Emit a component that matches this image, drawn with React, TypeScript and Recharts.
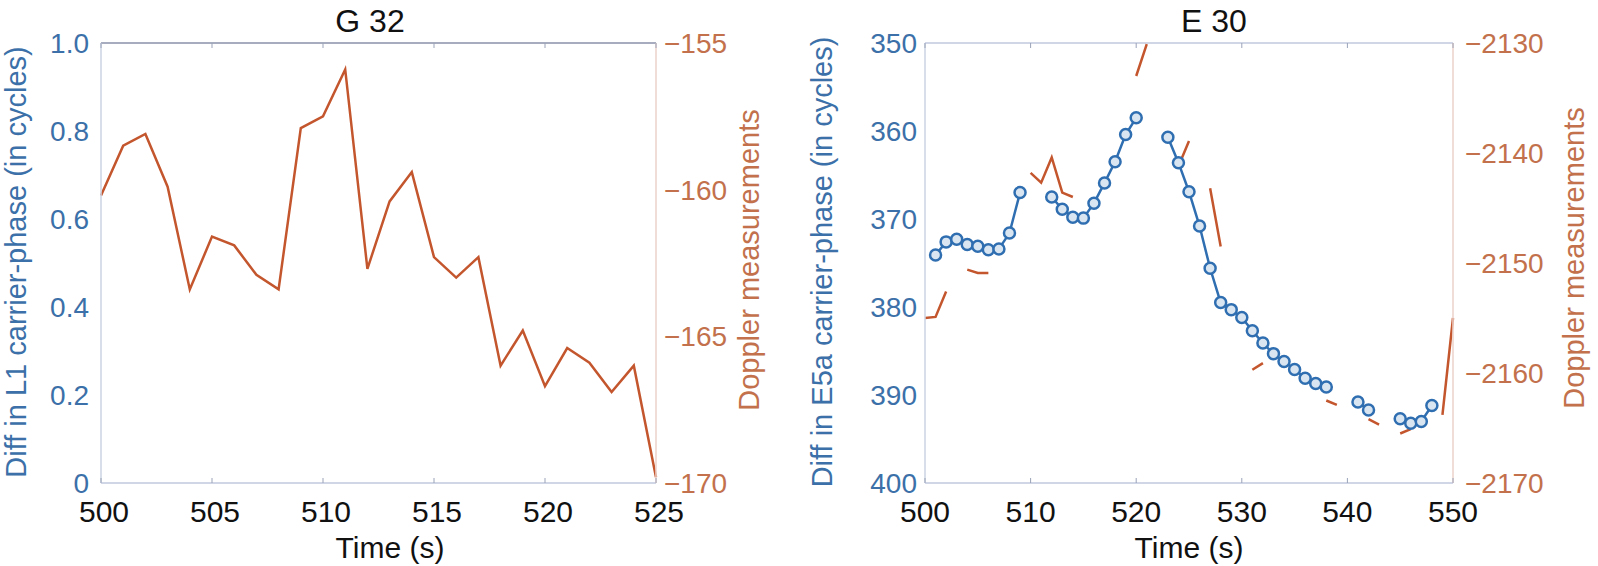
import React from "react";
import { LineChart, Line, XAxis, YAxis, ReferenceLine } from "recharts";

const FONT = "'Liberation Sans', Arial, Helvetica, sans-serif";
const BLUE = "#2f6eb0";
const BLUE_TXT = "#3b70a8";
const ORANGE = "#c4562e";
const ORANGE_TXT = "#c2714c";

// G 32
const g32Time = [500, 501, 502, 503, 504, 505, 506, 507, 508, 509, 510, 511, 512, 513, 514, 515, 516, 517, 518, 519, 520, 521, 522, 523, 524, 525];
const g32Doppler = [-160.2, -158.5, -158.1, -159.9, -163.4, -161.6, -161.9, -162.9, -163.4, -157.9, -157.5, -155.9, -162.7, -160.4, -159.4, -162.3, -163.0, -162.3, -166.0, -164.8, -166.7, -165.4, -165.9, -166.9, -166.0, -169.8];
const g32XTicks = [500, 505, 510, 515, 520, 525];
const g32PhaseTicks = [0, 0.2, 0.4, 0.6, 0.8, 1];
const g32DopplerTicks = [-170, -165, -160, -155];

// E 30
const e30Time = [500, 501, 502, 503, 504, 505, 506, 507, 508, 509, 510, 511, 512, 513, 514, 515, 516, 517, 518, 519, 520, 521, 522, 523, 524, 525, 526, 527, 528, 529, 530, 531, 532, 533, 534, 535, 536, 537, 538, 539, 540, 541, 542, 543, 544, 545, 546, 547, 548, 549, 550];
const e30Phase = [null, 374.1, 372.6, 372.3, 372.9, 373.1, 373.5, 373.4, 371.6, 367.0, null, null, 367.5, 368.9, 369.8, 369.9, 368.2, 365.9, 363.5, 360.4, 358.5, null, null, 360.7, 363.6, 366.9, 370.8, 375.6, 379.5, 380.3, 381.2, 382.7, 384.1, 385.3, 386.2, 387.1, 388.1, 388.7, 389.1, null, null, 390.8, 391.7, null, null, 392.7, 393.2, 393.0, 391.2, null, null];
const e30Doppler = [-2155.0, -2154.9, -2152.6, null, -2150.6, -2150.9, -2150.9, null, null, null, -2141.8, -2142.7, -2140.4, -2143.6, -2144.0, null, null, null, null, null, -2133.0, -2130.1, null, null, -2141.2, -2138.9, null, -2143.2, -2148.5, null, null, -2159.7, -2159.1, null, null, null, null, null, -2162.5, -2162.9, null, null, -2164.2, -2164.7, null, -2165.5, -2165.1, null, null, -2163.8, -2155.0];
const e30XTicks = [500, 510, 520, 530, 540, 550];
const e30PhaseTicks = [350, 360, 370, 380, 390, 400];
const e30DopplerTicks = [-2170, -2160, -2150, -2140, -2130];

const g32Data = g32Time.map((t, i) => ({ t, doppler: g32Doppler[i] }));
const e30Data = e30Time.map((t, i) => ({ t, phase: e30Phase[i], doppler: e30Doppler[i] }));

const minus = (v: number) => (v < 0 ? "\u2212" + Math.abs(v) : String(v));

function makeXTick(top: number, bottom: number, dx: number) {
  return (props: any) => {
    const { x, payload } = props;
    return (
      <g>
        <line x1={x} x2={x} y1={bottom} y2={bottom - 5} stroke="#9aa3b8" strokeWidth={1} />
        <line x1={x} x2={x} y1={top} y2={top + 5} stroke="#9aa3b8" strokeWidth={1} />
        <text x={x + dx} y={522} textAnchor="middle" fontSize={30} fontFamily={FONT} fill="#111">
          {payload.value}
        </text>
      </g>
    );
  };
}

function makeYTick(textX: number, anchor: "start" | "end", color: string, fmt: (v: number) => string) {
  return (props: any) => {
    const { y, payload } = props;
    return (
      <text x={textX} y={y + 10} textAnchor={anchor} fontSize={28} fontFamily={FONT} fill={color}>
        {fmt(payload.value)}
      </text>
    );
  };
}

function vLabel(x: number, y: number, text: string, color: string) {
  return () => (
    <text x={x} y={y} transform={`rotate(-90 ${x} ${y})`} textAnchor="middle" fontSize={29} fontFamily={FONT} fill={color}>
      {text}
    </text>
  );
}

function hLabel(x: number, y: number, text: string, size: number) {
  return () => (
    <text x={x} y={y} textAnchor="middle" fontSize={size} fontFamily={FONT} fill="#111">
      {text}
    </text>
  );
}

function G32Chart() {
  return (
    <LineChart width={800} height={566} data={g32Data} margin={{ top: 43, right: 0, bottom: 0, left: 0 }}>
      <XAxis
        dataKey="t"
        type="number"
        domain={[500, 525]}
        ticks={g32XTicks}
        height={83}
        axisLine={{ stroke: "#c0c8dc", strokeWidth: 1.5 }}
        tickLine={false}
        tick={makeXTick(43, 483, 3)}
        label={hLabel(390, 558, "Time (s)", 30)}
      />
      <YAxis
        yAxisId="left"
        type="number"
        domain={[0, 1]}
        allowDataOverflow
        ticks={g32PhaseTicks}
        width={101}
        axisLine={{ stroke: "#ccd5e3", strokeWidth: 1.5 }}
        tickLine={false}
        tick={makeYTick(89, "end", BLUE_TXT, (v) => (v === 0 ? "0" : v.toFixed(1)))}
        label={vLabel(26, 262, "Diff in L1 carrier-phase (in cycles)", BLUE_TXT)}
      />
      <YAxis
        yAxisId="right"
        orientation="right"
        type="number"
        domain={[-170, -155]}
        allowDataOverflow
        ticks={g32DopplerTicks}
        width={144}
        axisLine={{ stroke: "#ecd2ca", strokeWidth: 1.5 }}
        tickLine={false}
        tick={makeYTick(664, "start", ORANGE_TXT, minus)}
        label={vLabel(759, 260, "Doppler measurements", ORANGE_TXT)}
      />
      <ReferenceLine
        yAxisId="left"
        y={1}
        stroke="#8a92aa"
        strokeWidth={1.5}
        label={hLabel(370, 32, "G 32", 32)}
      />
      <Line
        yAxisId="right"
        dataKey="doppler"
        type="linear"
        stroke={ORANGE}
        strokeWidth={2.5}
        dot={false}
        isAnimationActive={false}
      />
    </LineChart>
  );
}

function E30Chart() {
  return (
    <LineChart width={808} height={566} data={e30Data} margin={{ top: 43, right: 0, bottom: 0, left: 0 }}>
      <XAxis
        dataKey="t"
        type="number"
        domain={[500, 550]}
        ticks={e30XTicks}
        height={83}
        axisLine={{ stroke: "#c0c8dc", strokeWidth: 1.5 }}
        tickLine={false}
        tick={makeXTick(43, 483, 0)}
        label={hLabel(399, 558, "Time (s)", 30)}
      />
      <YAxis
        yAxisId="left"
        type="number"
        domain={[350, 400]}
        allowDataOverflow
        reversed
        ticks={e30PhaseTicks}
        width={135}
        axisLine={{ stroke: "#ccd5e3", strokeWidth: 1.5 }}
        tickLine={false}
        tick={makeYTick(127, "end", BLUE_TXT, (v) => String(v))}
        label={vLabel(42, 262, "Diff in E5a carrier-phase (in cycles)", BLUE_TXT)}
      />
      <YAxis
        yAxisId="right"
        orientation="right"
        type="number"
        domain={[-2170, -2130]}
        allowDataOverflow
        ticks={e30DopplerTicks}
        width={145}
        axisLine={{ stroke: "#ecd2ca", strokeWidth: 1.5 }}
        tickLine={false}
        tick={makeYTick(675, "start", ORANGE_TXT, minus)}
        label={vLabel(794, 258, "Doppler measurements", ORANGE_TXT)}
      />
      <ReferenceLine
        yAxisId="left"
        y={350}
        stroke="#c0c8dc"
        strokeWidth={1.5}
        label={hLabel(424, 32, "E 30", 32)}
      />
      <Line
        yAxisId="right"
        dataKey="doppler"
        type="linear"
        stroke={ORANGE}
        strokeWidth={2.5}
        dot={false}
        connectNulls={false}
        isAnimationActive={false}
      />
      <Line
        yAxisId="left"
        dataKey="phase"
        type="linear"
        stroke={BLUE}
        strokeWidth={2.5}
        dot={{ r: 5.5, stroke: BLUE, strokeWidth: 2.5, fill: "#d9e6f2" }}
        connectNulls={false}
        isAnimationActive={false}
      />
    </LineChart>
  );
}

export default function App() {
  return (
    <div style={{ position: "absolute", left: 0, top: 0, width: 1598, height: 566, background: "#fff" }}>
      <div style={{ position: "absolute", left: 0, top: 0 }}>
        <G32Chart />
      </div>
      <div style={{ position: "absolute", left: 790, top: 0 }}>
        <E30Chart />
      </div>
    </div>
  );
}
